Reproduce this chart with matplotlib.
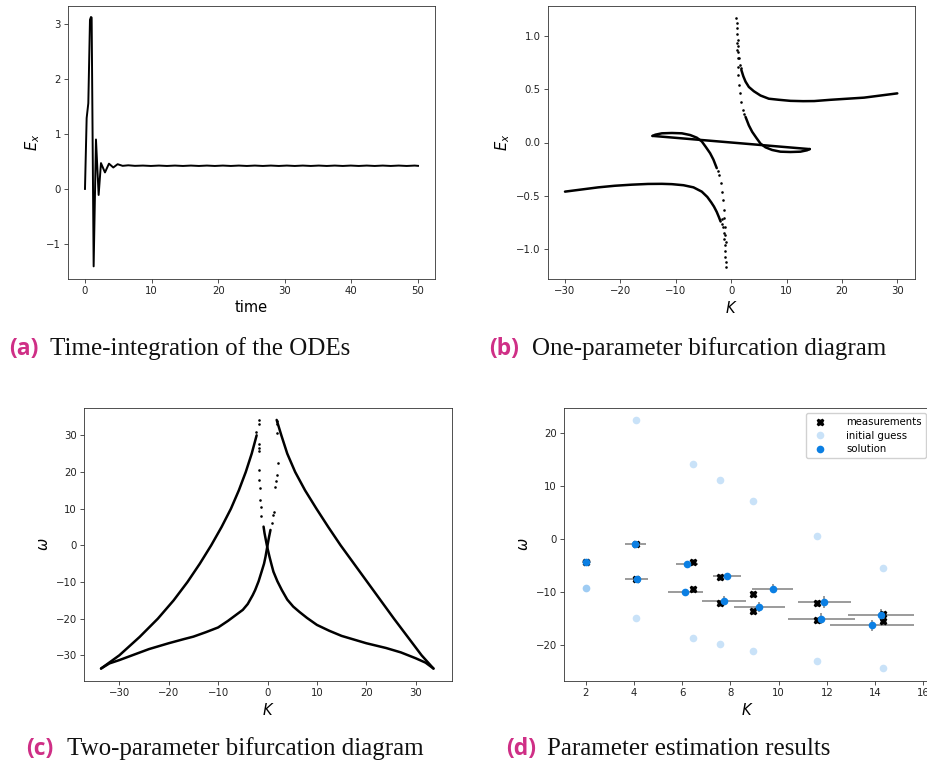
import matplotlib
matplotlib.use("Agg")
import matplotlib.pyplot as plt

# ---- (a) time integration ----
t_vals = [0, 0.25, 0.5, 0.75, 0.9, 1.0, 1.3, 1.65, 2.05, 2.4, 3.0, 3.6, 4.25, 4.9, 5.65,
          6.5, 7.5, 8.7, 9.9, 11.1, 12.3, 13.5, 14.7, 15.9, 17.1, 18.3, 19.5, 20.7, 21.9,
          23.1, 24.3, 25.5, 26.7, 27.9, 29.1, 30.3, 31.5, 32.7, 33.9, 35.1, 36.3, 37.5,
          38.7, 39.9, 41.1, 42.3, 43.5, 44.7, 45.9, 47.1, 48.3, 49.5, 50]
Ex_vals = [0, 1.29, 1.56, 3.08, 3.13, 3.12, -1.41, 0.9, -0.11, 0.47, 0.30, 0.46, 0.39, 0.45, 0.42,
           0.43, 0.42, 0.425, 0.418, 0.425, 0.418, 0.425, 0.418, 0.425, 0.418, 0.425, 0.418, 0.425, 0.418,
           0.425, 0.418, 0.425, 0.418, 0.425, 0.418, 0.425, 0.418, 0.425, 0.418, 0.425, 0.418, 0.425,
           0.418, 0.425, 0.418, 0.425, 0.418, 0.425, 0.418, 0.425, 0.418, 0.425, 0.42]

# ---- (b) one-parameter bifurcation ----
b_up_K = [1.84, 2.2, 2.6, 3.2, 4.1, 5.3, 6.8, 8.6, 10.7, 13, 15, 18, 21, 24, 27, 30]
b_up_E = [0.68, 0.62, 0.57, 0.52, 0.48, 0.44, 0.41, 0.40, 0.39, 0.387, 0.388, 0.40, 0.41, 0.42, 0.44, 0.46]
b_lo_K = [-30, -27, -24, -21, -18, -15, -12.5, -10.7, -8.6, -6.8, -5.3, -4.3, -3.6, -3.1, -2.6, -2.2, -1.9]
b_lo_E = [-0.46, -0.44, -0.42, -0.405, -0.395, -0.388, -0.387, -0.39, -0.40, -0.42, -0.46, -0.51, -0.56, -0.60, -0.65, -0.70, -0.74]
b_line_K = [-14.2, 14.2]
b_line_E = [0.062, -0.062]
b_loopL_K = [-2.6, -3.2, -3.8, -4.6, -5.3, -6.2, -7.4, -8.9, -10.7, -12.5, -13.7, -14.2]
b_loopL_E = [-0.24, -0.16, -0.10, -0.04, 0.01, 0.045, 0.07, 0.086, 0.089, 0.086, 0.073, 0.061]
b_loopR_K = [2.6, 3.2, 3.8, 4.6, 5.3, 6.2, 7.4, 8.9, 10.7, 12.5, 13.7, 14.2]
b_loopR_E = [0.24, 0.16, 0.10, 0.04, -0.01, -0.045, -0.07, -0.086, -0.089, -0.086, -0.073, -0.061]
# sparse points on the steep parts
b_dots_K = [0.93, 0.99, 1.05, 1.11, 1.17, 1.23, 1.29, 1.41, 1.59, 1.72,
            1.0, 1.1, 1.17, 1.23, 1.29, 1.41, 1.59, 1.84, 2.2, 2.4,
            -0.93, -0.99, -1.05, -1.11, -1.17, -1.23, -1.29, -1.41, -1.59, -1.72,
            -1.0, -1.1, -1.17, -1.23, -1.29, -1.41, -1.59, -1.84, -2.2, -2.4]
b_dots_E = [1.17, 1.12, 1.07, 1.02, 0.96, 0.90, 0.85, 0.79, 0.73, 0.70,
            0.93, 0.87, 0.79, 0.71, 0.63, 0.54, 0.46, 0.38, 0.30, 0.27,
            -1.17, -1.12, -1.07, -1.02, -0.96, -0.90, -0.85, -0.79, -0.76, -0.72,
            -0.93, -0.87, -0.79, -0.71, -0.63, -0.54, -0.46, -0.38, -0.30, -0.27]

# ---- (c) two-parameter bifurcation ----
c_outL_K = [-33.7, -30.0, -25.9, -22.2, -19.0, -16.2, -13.7, -11.4, -9.3, -7.4, -5.8, -4.4, -3.2, -2.2]
c_outL_W = [-33.6, -30, -25, -20, -15, -10, -5, 0, 5, 10, 15, 20, 25, 30]
c_outR_K = [1.85, 2.8, 4.0, 5.6, 7.6, 9.9, 12.3, 14.8, 17.5, 20.2, 22.9, 25.6, 28.4, 31.2, 33.6]
c_outR_W = [34.2, 30, 25, 20, 15, 10, 5, 0, -5, -10, -15, -20, -25, -30, -33.6]
c_inL_K = [-33.7, -32, -30, -27, -24, -20, -17, -15, -12.5, -10, -8, -6.5, -5, -4, -3, -2.5,
           -1.8, -1.2, -0.7, -0.4, 0, 0.3, 0.6]
c_inL_W = [-33.6, -32.2, -31.3, -29.8, -28.3, -26.7, -25.6, -24.9, -23.7, -22.4, -20.6, -19.1,
           -17.6, -16.0, -13.6, -12.2, -9.8, -7.2, -5.0, -3.1, 0, 2.2, 4.2]
c_inR_K = [33.6, 32, 30, 27, 24, 20, 17, 15, 12.5, 10, 8, 6.5, 5.2, 4, 2.9, 2.0, 1.2, 0.8, 0.4,
           0, -0.2, -0.6, -0.8]
c_inR_W = [-33.6, -32.0, -30.8, -29.2, -28.0, -26.7, -25.5, -24.7, -23.3, -21.7, -19.8, -18.2,
           -16.7, -14.8, -12.2, -9.8, -7.2, -5.2, -3.1, -0.8, 0.5, 3.3, 5.1]
c_dots_K = [-1.7, -1.7, -1.8, -1.8, -1.8, -1.7, -1.7, -1.6, -1.5, -1.4, -1.3, -2.3,
            2.0, 1.9, 1.9, 2.1, 1.9, 1.7, 1.6, 1.3, 1.2, 0.9]
c_dots_W = [34.2, 33.0, 27.5, 26.5, 25.8, 20.5, 17.8, 15.5, 12.4, 10.5, 8.0, 31.0,
            34.0, 33.0, 30.5, 22.5, 19.2, 17.5, 16.0, 9.0, 8.3, 6.2]

# ---- (d) parameter estimation ----
meas_K = [2.0, 4.1, 4.1, 6.45, 6.45, 7.56, 7.56, 8.94, 8.94, 11.6, 11.6, 14.35, 14.35]
meas_W = [-4.4, -0.9, -7.5, -4.4, -9.4, -7.2, -12.1, -10.3, -13.6, -12.1, -15.3, -14.1, -15.5]
guess_K = [2.0, 2.0, 4.09, 4.09, 6.45, 6.45, 7.56, 7.56, 8.94, 8.94, 11.6, 11.6, 14.35, 14.35]
guess_W = [-9.3, -9.3, 22.5, -14.8, 14.3, -18.6, 11.1, -19.8, 7.3, -21.2, 0.7, -23.0, -5.4, -24.4]
sol_K = [2.03, 4.06, 4.11, 6.2, 6.13, 7.86, 7.73, 9.75, 9.2, 11.9, 11.77, 14.24, 13.88]
sol_W = [-4.3, -0.9, -7.5, -4.6, -9.9, -7.0, -11.6, -9.35, -12.8, -11.9, -15.0, -14.3, -16.3]
sol_Kerr = [0.2, 0.43, 0.46, 0.46, 0.73, 0.6, 0.9, 0.84, 1.06, 1.09, 1.4, 1.37, 1.73]
sol_Werr = [0.3, 0.3, 0.3, 0.4, 0.4, 0.6, 0.8, 0.9, 0.9, 1.1, 1.0, 1.1, 1.1]

blue = '#0b7fe3'
pink = '#cf2f86'

plt.rcParams['axes.linewidth'] = 0.6
plt.rcParams['axes.edgecolor'] = '#333333'
for ax_ in ['xtick', 'ytick']:
    plt.rcParams[ax_ + '.major.size'] = 2.6
    plt.rcParams[ax_ + '.major.width'] = 0.6
    plt.rcParams[ax_ + '.major.pad'] = 2.6
    plt.rcParams[ax_ + '.labelsize'] = 7.3
    plt.rcParams[ax_ + '.color'] = '#333333'
    plt.rcParams[ax_ + '.labelcolor'] = '#222222'
plt.rcParams['axes.labelsize'] = 10.5
plt.rcParams['axes.labelpad'] = 3

W, H = 928, 764
fig = plt.figure(figsize=(W / 100, H / 100), dpi=100)


def add_ax(l, t, r, b):
    return fig.add_axes([l / W, 1 - b / H, (r - l) / W, (b - t) / H])


# (a)
ax = add_ax(68, 6, 435, 279)
ax.plot(t_vals, Ex_vals, color='k', lw=1.4)
ax.set_xlim(-2.55, 52.55)
ax.set_ylim(-1.64, 3.33)
ax.set_yticks([-1, 0, 1, 2, 3])
ax.set_xlabel('time')
ax.set_ylabel('$E_x$')

# (b)
ax = add_ax(548, 6, 915, 279)
for kk, ee in [(b_up_K, b_up_E), (b_lo_K, b_lo_E), (b_line_K, b_line_E),
               (b_loopL_K, b_loopL_E), (b_loopR_K, b_loopR_E)]:
    ax.plot(kk, ee, color='k', lw=1.8, solid_capstyle='round', solid_joinstyle='round')
ax.scatter(b_dots_K, b_dots_E, s=3.5, color='k', lw=0)
ax.set_xlim(-33.07, 33.2)
ax.set_ylim(-1.278, 1.278)
ax.set_yticks([-1.0, -0.5, 0.0, 0.5, 1.0])
ax.set_xticks([-30, -20, -10, 0, 10, 20, 30])
ax.set_xlabel('$K$')
ax.set_ylabel('$E_x$')

# (c)
ax = add_ax(84, 408, 452, 681)
for kk, ww in [(c_outL_K, c_outL_W), (c_outR_K, c_outR_W), (c_inL_K, c_inL_W), (c_inR_K, c_inR_W)]:
    ax.plot(kk, ww, color='k', lw=1.8, solid_capstyle='round', solid_joinstyle='round')
ax.scatter(c_dots_K, c_dots_W, s=3.5, color='k', lw=0)
ax.set_xlim(-37.15, 37.35)
ax.set_ylim(-37.0, 37.45)
ax.set_xticks([-30, -20, -10, 0, 10, 20, 30])
ax.set_yticks([-30, -20, -10, 0, 10, 20, 30])
ax.set_xlabel('$K$')
ax.set_ylabel('$\\omega$')

# (d)
ax = add_ax(564, 408, 931, 681)
ax.plot(meas_K, meas_W, 'X', color='k', ms=5, label='measurements', zorder=3)
ax.plot(guess_K, guess_W, 'o', color=blue, alpha=0.22, ms=5.5, mew=0, label='initial guess')
ax.errorbar(sol_K, sol_W, xerr=sol_Kerr, yerr=sol_Werr, fmt='none', ecolor='#8a8a8a', elinewidth=1.2, zorder=2)
ax.plot(sol_K, sol_W, 'o', color=blue, ms=5.5, mew=0, label='solution', zorder=4)
ax.set_xlim(1.1, 16.32)
ax.set_ylim(-26.8, 24.8)
ax.set_xticks([2, 4, 6, 8, 10, 12, 14, 16])
ax.set_yticks([-20, -10, 0, 10, 20])
ax.set_xlabel('$K$')
ax.set_ylabel('$\\omega$')
ax.legend(loc='upper right', fontsize=7.25, handletextpad=1.6, borderpad=0.4,
          labelspacing=0.35, framealpha=0.9)

# captions
captions = [(9, 50, 355, '(a)', 'Time-integration of the ODEs'),
            (489, 532, 355, '(b)', 'One-parameter bifurcation diagram'),
            (26, 67, 755, '(c)', 'Two-parameter bifurcation diagram'),
            (506, 547, 755, '(d)', 'Parameter estimation results')]
for xl, xt, yb, lab, txt in captions:
    fig.text(xl / W, 1 - yb / H, lab, color=pink, fontsize=16.5, fontweight='bold',
             family='Open Sans', va='baseline', ha='left')
    fig.text(xt / W, 1 - yb / H, txt, color='#111111', fontsize=18,
             family='Liberation Serif', va='baseline', ha='left')

fig.savefig('out.png', dpi=100)
